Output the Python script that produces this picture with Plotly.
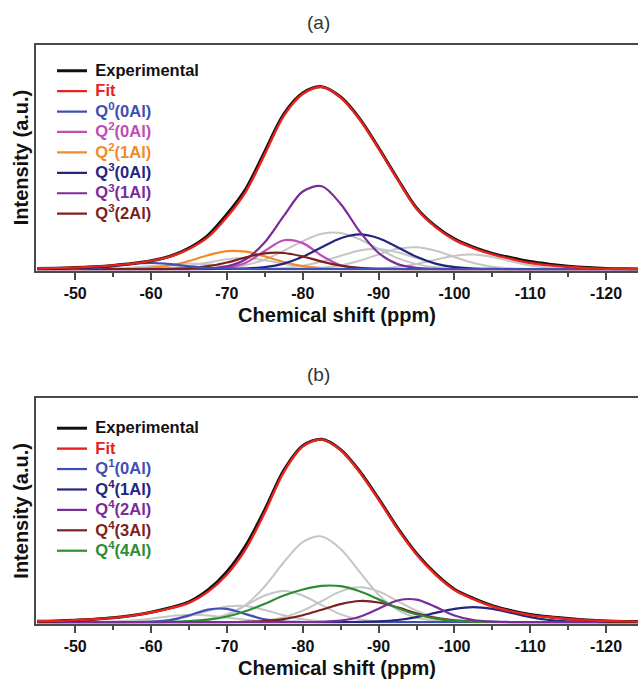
import plotly.graph_objects as go

# ---------------- data ----------------
ppm = [-45.0, -47.5, -50.0, -52.5, -55.0, -57.5, -60.0, -62.5, -65.0, -67.5,
       -70.0, -72.5, -75.0, -77.5, -80.0, -82.5, -85.0, -87.5, -90.0, -92.5,
       -95.0, -97.5, -100.0, -102.5, -105.0, -107.5, -110.0, -112.5, -115.0,
       -117.5, -120.0, -122.5, -125.0]

# panel (a)
a_experimental = [0.3, 0.5, 0.8, 1.3, 2.0, 3.0, 4.5, 7.0, 11.5, 18.5, 30.0, 44.0, 64.5, 85.0, 96.5, 100.0,
                  94.3, 82.5, 66.5, 49.5, 33.5, 23.5, 16.5, 12.0, 8.6, 6.2, 4.1, 2.7, 1.6, 0.8, 0.3, 0.15, 0.05]
a_fit = [0.3, 0.5, 0.8, 1.3, 2.0, 3.0, 4.5, 6.8, 11.0, 17.5, 28.5, 42.5, 63.0, 84.0, 96.0, 99.8,
         94.0, 82.0, 66.0, 49.0, 33.0, 23.0, 16.0, 11.5, 8.0, 5.5, 3.3, 2.0, 1.1, 0.5, 0.2, 0.1, 0.05]
a_q0_0al = [0, 0.03, 0.15, 0.57, 1.51, 2.72, 3.3, 2.72, 1.51, 0.57, 0.15, 0.03, 0, 0, 0, 0,
            0, 0, 0, 0, 0, 0, 0, 0, 0, 0, 0, 0, 0, 0, 0, 0, 0]
a_q2_0al = [0, 0, 0, 0, 0, 0, 0, 0, 0, 0.08, 0.68, 3.47, 9.9, 15.8, 14.2, 7.3,
            2.07, 0.33, 0.04, 0, 0, 0, 0, 0, 0, 0, 0, 0, 0, 0, 0, 0, 0]
a_q2_1al = [0, 0, 0, 0, 0.03, 0.16, 0.65, 1.94, 4.41, 7.58, 9.78, 9.5, 6.96, 3.86, 1.6, 0.5,
            0.12, 0, 0, 0, 0, 0, 0, 0, 0, 0, 0, 0, 0, 0, 0, 0, 0]
a_q3_0al = [0, 0, 0, 0, 0, 0, 0, 0, 0, 0, 0.06, 0.3, 1.06, 3.0, 6.7, 12.0,
            16.9, 19.0, 16.9, 12.0, 6.7, 3.0, 1.06, 0.3, 0.06, 0, 0, 0, 0, 0, 0, 0, 0]
a_q3_1al = [0, 0, 0, 0, 0, 0, 0, 0, 0, 0.29, 1.5, 5.4, 14.7, 29.1, 42.5, 45.4,
            35.7, 20.6, 8.8, 2.7, 0.64, 0.1, 0, 0, 0, 0, 0, 0, 0, 0, 0, 0, 0]
a_q3_2al = [0, 0, 0, 0, 0, 0, 0, 0.13, 0.5, 1.55, 3.6, 6.4, 8.6, 8.8, 6.9, 4.1,
            1.9, 0.66, 0.17, 0.03, 0, 0, 0, 0, 0, 0, 0, 0, 0, 0, 0, 0, 0]
a_grey_1 = [0, 0, 0, 0, 0, 0, 0, 0, 0, 0.22, 0.78, 2.2, 5.2, 10.0, 15.3, 19.3,
            19.7, 16.3, 11.0, 6.0, 2.7, 1.0, 0.3, 0.07, 0, 0, 0, 0, 0, 0, 0, 0, 0]
a_grey_2 = [0, 0, 0, 0, 0, 0, 0, 0, 0, 0, 0, 0, 0.16, 0.62, 1.8, 4.1,
            7.3, 10.2, 10.9, 9.2, 6.0, 3.1, 1.2, 0.37, 0.09, 0, 0, 0, 0, 0, 0, 0, 0]
a_grey_3 = [0, 0, 0, 0, 0, 0, 0, 0, 0, 0, 0, 0, 0, 0, 0.18, 0.67,
            2.0, 4.5, 8.0, 11.1, 11.9, 10.0, 6.6, 3.3, 1.3, 0.4, 0.1, 0, 0, 0, 0, 0, 0]
a_grey_4 = [0, 0, 0, 0, 0, 0, 0, 0, 0, 0, 0, 0, 0, 0, 0, 0,
            0, 0.09, 0.35, 1.1, 2.8, 5.1, 7.3, 8.0, 6.6, 4.1, 2.0, 0.73, 0.2, 0.04, 0, 0, 0]
a_grey_5 = [0, 0, 0, 0, 0, 0.04, 0.17, 0.65, 1.8, 3.6, 5.4, 6.0, 4.8, 2.85, 1.2, 0.4,
            0.09, 0, 0, 0, 0, 0, 0, 0, 0, 0, 0, 0, 0, 0, 0, 0, 0]
a_grey_6 = [0, 0, 0, 0.06, 0.26, 0.75, 1.6, 2.6, 3.0, 2.6, 1.6, 0.75, 0.26, 0.06, 0, 0,
            0, 0, 0, 0, 0, 0, 0, 0, 0, 0, 0, 0, 0, 0, 0, 0, 0]

# panel (b)
b_experimental = [0.4, 0.6, 1.0, 1.5, 2.3, 3.6, 5.4, 7.8, 11.0, 17.5, 27.5, 42.0, 61.5, 83.0, 96.5, 100.0,
                  94.3, 82.5, 67.5, 51.5, 37.5, 26.5, 18.0, 13.0, 9.0, 6.2, 4.2, 2.9, 1.9, 1.1, 0.6, 0.35, 0.2]
b_fit = [0.4, 0.6, 1.0, 1.5, 2.3, 3.5, 5.2, 7.5, 10.5, 16.5, 26.0, 40.0, 60.0, 82.0, 96.0, 99.8,
         94.0, 82.0, 67.0, 51.0, 37.0, 26.0, 17.5, 12.5, 8.5, 5.8, 3.8, 2.6, 1.7, 1.0, 0.6, 0.35, 0.2]
b_q1_0al = [0, 0, 0, 0, 0, 0.02, 0.18, 1.08, 3.6, 6.8, 7.2, 4.3, 1.43, 0.27, 0.03, 0,
            0, 0, 0, 0, 0, 0, 0, 0, 0, 0, 0, 0, 0, 0, 0, 0, 0]
b_q4_1al = [0, 0, 0, 0, 0, 0, 0, 0, 0, 0, 0, 0, 0, 0, 0, 0,
            0, 0.09, 0.36, 1.1, 2.7, 5.0, 7.2, 8.2, 7.2, 5.0, 2.7, 1.1, 0.36, 0.09, 0, 0, 0]
b_q4_2al = [0, 0, 0, 0, 0, 0, 0, 0, 0, 0, 0, 0, 0, 0, 0, 0.13,
            0.77, 2.9, 7.3, 11.8, 12.3, 8.3, 3.6, 1.04, 0.19, 0.02, 0, 0, 0, 0, 0, 0, 0]
b_q4_3al = [0, 0, 0, 0, 0, 0, 0, 0, 0, 0, 0, 0.16, 0.57, 1.6, 3.7, 6.7,
            9.8, 11.5, 10.7, 8.0, 4.8, 2.3, 0.9, 0.27, 0.07, 0, 0, 0, 0, 0, 0, 0, 0]
b_q4_4al = [0, 0, 0, 0, 0, 0, 0, 0.1, 0.5, 1.3, 3.0, 6.0, 10.0, 14.5, 17.8, 19.8,
            19.6, 16.8, 12.4, 7.7, 4.1, 1.9, 0.74, 0.24, 0.06, 0, 0, 0, 0, 0, 0, 0, 0]
b_grey_1 = [0, 0, 0, 0, 0, 0, 0, 0.05, 0.28, 1.1, 3.7, 9.4, 19.6, 32.7, 43.7, 46.8,
            40.0, 27.4, 15.0, 6.6, 2.3, 0.66, 0.14, 0, 0, 0, 0, 0, 0, 0, 0, 0, 0]
b_grey_2 = [0, 0, 0, 0, 0, 0, 0, 0.07, 0.36, 1.45, 4.2, 9.2, 14.5, 17.0, 14.5, 9.2,
            4.2, 1.45, 0.36, 0.07, 0, 0, 0, 0, 0, 0, 0, 0, 0, 0, 0, 0, 0]
b_grey_3 = [0, 0, 0, 0, 0, 0, 0, 0, 0, 0, 0, 0.2, 0.84, 2.6, 6.2, 11.5,
            16.8, 19.0, 16.8, 11.5, 6.2, 2.6, 0.84, 0.2, 0, 0, 0, 0, 0, 0, 0, 0, 0]
b_grey_4 = [0, 0, 0, 0, 0, 0.07, 0.34, 1.2, 3.2, 6.1, 8.5, 8.8, 6.6, 3.7, 1.5, 0.46,
            0.1, 0, 0, 0, 0, 0, 0, 0, 0, 0, 0, 0, 0, 0, 0, 0, 0]
b_grey_5 = [0, 0, 0, 0.06, 0.26, 0.82, 1.9, 3.2, 4.0, 3.6, 2.4, 1.2, 0.43, 0.11, 0, 0,
            0, 0, 0, 0, 0, 0, 0, 0, 0, 0, 0, 0, 0, 0, 0, 0, 0]

tick_vals = [-50, -60, -70, -80, -90, -100, -110, -120]
tick_text = ["-50", "-60", "-70", "-80", "-90", "-100", "-110", "-120"]
minor_tick_vals = [-55, -65, -75, -85, -95, -105, -115]
panel_titles = ["(a)", "(b)"]
x_title = "Chemical shift (ppm)"
y_title = "Intensity (a.u.)"

# ---------------- styling ----------------
FONT = "Liberation Sans, Arial, Helvetica, sans-serif"
C_EXP = "#111111"
C_FIT = "#e8231d"
C_BLUE = "#3f4fb3"
C_PINK = "#c04cb6"
C_ORANGE = "#f28a2c"
C_NAVY = "#25257f"
C_PURPLE = "#7b2b9b"
C_MAROON = "#7d1f1f"
C_GREEN = "#2f8c36"
C_GREY = "#c6c6c6"
AXC = "#4a4a4a"

W, H = 638, 681
L = 36

fig = go.Figure()


def label(text, color):
    return f'<span style="color:{color};font-size:16.5px">\u2009{text}</span>'


def add(panel, y, color, width, name=None, rank=None):
    xa, ya, lg = ("x", "y", "legend") if panel == "a" else ("x2", "y2", "legend2")
    fig.add_trace(go.Scatter(
        x=ppm, y=y, mode="lines", xaxis=xa, yaxis=ya,
        line=dict(color=color, width=width, shape="spline", smoothing=0.9),
        name=label(name, color) if name else None,
        showlegend=name is not None, legend=lg,
        legendrank=rank if rank else 1000, hoverinfo="skip"))


# panel (a): greys first, then components, then experimental / fit
for g in [a_grey_1, a_grey_2, a_grey_3, a_grey_4, a_grey_5, a_grey_6]:
    add("a", g, C_GREY, 2)
add("a", a_q2_0al, C_PINK, 2.2, "Q<sup>2</sup>(0Al)", 4)
add("a", a_q2_1al, C_ORANGE, 2.2, "Q<sup>2</sup>(1Al)", 5)
add("a", a_q3_0al, C_NAVY, 2.2, "Q<sup>3</sup>(0Al)", 6)
add("a", a_q3_1al, C_PURPLE, 2.2, "Q<sup>3</sup>(1Al)", 7)
add("a", a_q3_2al, C_MAROON, 2.2, "Q<sup>3</sup>(2Al)", 8)
add("a", a_q0_0al, C_BLUE, 2.2, "Q<sup>0</sup>(0Al)", 3)
add("a", a_experimental, C_EXP, 3, "Experimental", 1)
add("a", a_fit, C_FIT, 2.4, "Fit", 2)

# panel (b)
for g in [b_grey_1, b_grey_2, b_grey_3, b_grey_4, b_grey_5]:
    add("b", g, C_GREY, 2)
add("b", b_q1_0al, C_BLUE, 2.2, "Q<sup>1</sup>(0Al)", 3)
add("b", b_q4_1al, C_NAVY, 2.2, "Q<sup>4</sup>(1Al)", 4)
add("b", b_q4_3al, C_MAROON, 2.2, "Q<sup>4</sup>(3Al)", 6)
add("b", b_q4_4al, C_GREEN, 2.2, "Q<sup>4</sup>(4Al)", 7)
add("b", b_q4_2al, C_PURPLE, 2.2, "Q<sup>4</sup>(2Al)", 5)
add("b", b_experimental, C_EXP, 3, "Experimental", 1)
add("b", b_fit, C_FIT, 2.4, "Fit", 2)


def py(px):
    return 1 - px / H


def xaxis(anchor):
    return dict(
        anchor=anchor, domain=[0, 1], range=[-44.83, -124.2], autorange=False,
        tickmode="array", tickvals=tick_vals, ticktext=tick_text,
        ticks="outside", ticklen=7, tickwidth=2, tickcolor=AXC,
        minor=dict(tickmode="array", tickvals=minor_tick_vals, ticks="outside",
                   ticklen=4, tickwidth=1.5, tickcolor=AXC),
        tickfont=dict(family=FONT, size=16, color="#111", weight="bold"),
        showline=True, linecolor=AXC, linewidth=2, mirror=True,
        showgrid=False, zeroline=False, automargin=False,
        title=dict(text=x_title, standoff=7,
                   font=dict(family=FONT, size=20, color="#111", weight="bold")))


def yaxis(anchor, dom, rng):
    return dict(
        anchor=anchor, domain=dom, range=rng, autorange=False,
        showticklabels=False, ticks="", showline=True, linecolor=AXC, linewidth=2,
        mirror=False, showgrid=False, zeroline=False, automargin=False,
        title=dict(text=y_title, standoff=0,
                   font=dict(family=FONT, size=20, color="#111", weight="bold")))


legend_common = dict(xanchor="left", yanchor="top", bgcolor="rgba(0,0,0,0)",
                     font=dict(family=FONT, size=13.4, color="#111", weight="bold"),
                     itemwidth=30, tracegroupgap=0, traceorder="normal")

fig.update_layout(
    width=W, height=H,
    margin=dict(l=L, r=0, t=0, b=0, autoexpand=False),
    paper_bgcolor="white", plot_bgcolor="white",
    font=dict(family=FONT),
    xaxis=xaxis("y"),
    yaxis=yaxis("x", [py(270.5), py(44.5)], [-0.8, 123.1]),
    xaxis2=xaxis("y2"),
    yaxis2=yaxis("x2", [py(623.5), py(398.3)], [-0.8, 122.4]),
    legend=dict(x=(52 - L) / (W - L), y=py(55.5), **legend_common),
    legend2=dict(x=(52 - L) / (W - L), y=py(413), **legend_common),
    showlegend=True,
    annotations=[
        dict(text=panel_titles[0], x=(318 - L) / (W - L), y=py(22), xref="paper", yref="paper",
             showarrow=False, xanchor="center", yanchor="middle",
             font=dict(family=FONT, size=19, color="#333")),
        dict(text=panel_titles[1], x=(318 - L) / (W - L), y=py(375), xref="paper", yref="paper",
             showarrow=False, xanchor="center", yanchor="middle",
             font=dict(family=FONT, size=19, color="#333")),
    ],
)

fig.write_html("out.html", config={"displayModeBar": False})
